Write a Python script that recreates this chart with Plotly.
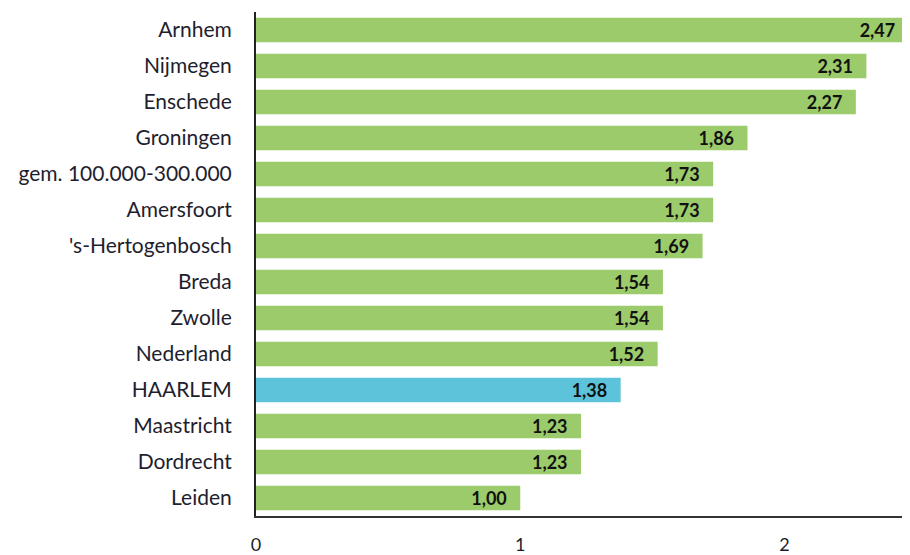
import plotly.graph_objects as go

GREEN = "#9CCB6B"
BLUE = "#5CC3DA"
INK = "#1E1E2E"

steden = [
    "Arnhem", "Nijmegen", "Enschede", "Groningen", "gem. 100.000-300.000",
    "Amersfoort", "'s-Hertogenbosch", "Breda", "Zwolle", "Nederland",
    "HAARLEM", "Maastricht", "Dordrecht", "Leiden",
]
waarden = [2.47, 2.31, 2.27, 1.86, 1.73, 1.73, 1.69, 1.54, 1.54, 1.52, 1.38, 1.23, 1.23, 1.00]
x_ticks = [0, 1, 2]

kleuren = [BLUE if s == "HAARLEM" else GREEN for s in steden]

# page body has an 8px margin, so the figure is sized/margined to land where the original does
fig = go.Figure(go.Bar(
    x=waarden,
    y=steden,
    orientation="h",
    marker=dict(color=kleuren, line=dict(width=0)),
    # invisible trailing glyph = a bit of padding before the bar end
    texttemplate="%{x:.2f}<span style='color:rgba(0,0,0,0)'>0</span>",
    textposition="inside",
    insidetextanchor="end",
    constraintext="none",
    textfont=dict(family="Lato, sans-serif", size=18, color="#111111", weight="bold"),
))

fig.update_layout(
    width=902, height=547,
    margin=dict(t=4, b=39, l=248, r=0),
    separators=",.",
    paper_bgcolor="white",
    plot_bgcolor="white",
    bargap=0.32,
    showlegend=False,
    font=dict(family="Lato, sans-serif", size=21, color=INK),
)
fig.update_xaxes(
    range=[0, 2.475],
    tickvals=x_ticks,
    ticktext=[str(t) for t in x_ticks],
    showgrid=False, zeroline=False,
    showline=True, linecolor="#333333", linewidth=2,
    ticks="", ticklabelstandoff=11, automargin=False,
    tickfont=dict(size=18, color=INK),
)
fig.update_yaxes(
    autorange="reversed",
    showgrid=False, zeroline=False,
    showline=True, linecolor="#222222", linewidth=2,
    ticks="", ticklabelstandoff=18, automargin=False,
    tickfont=dict(size=21, color=INK),
)

fig.write_html("out.html")
